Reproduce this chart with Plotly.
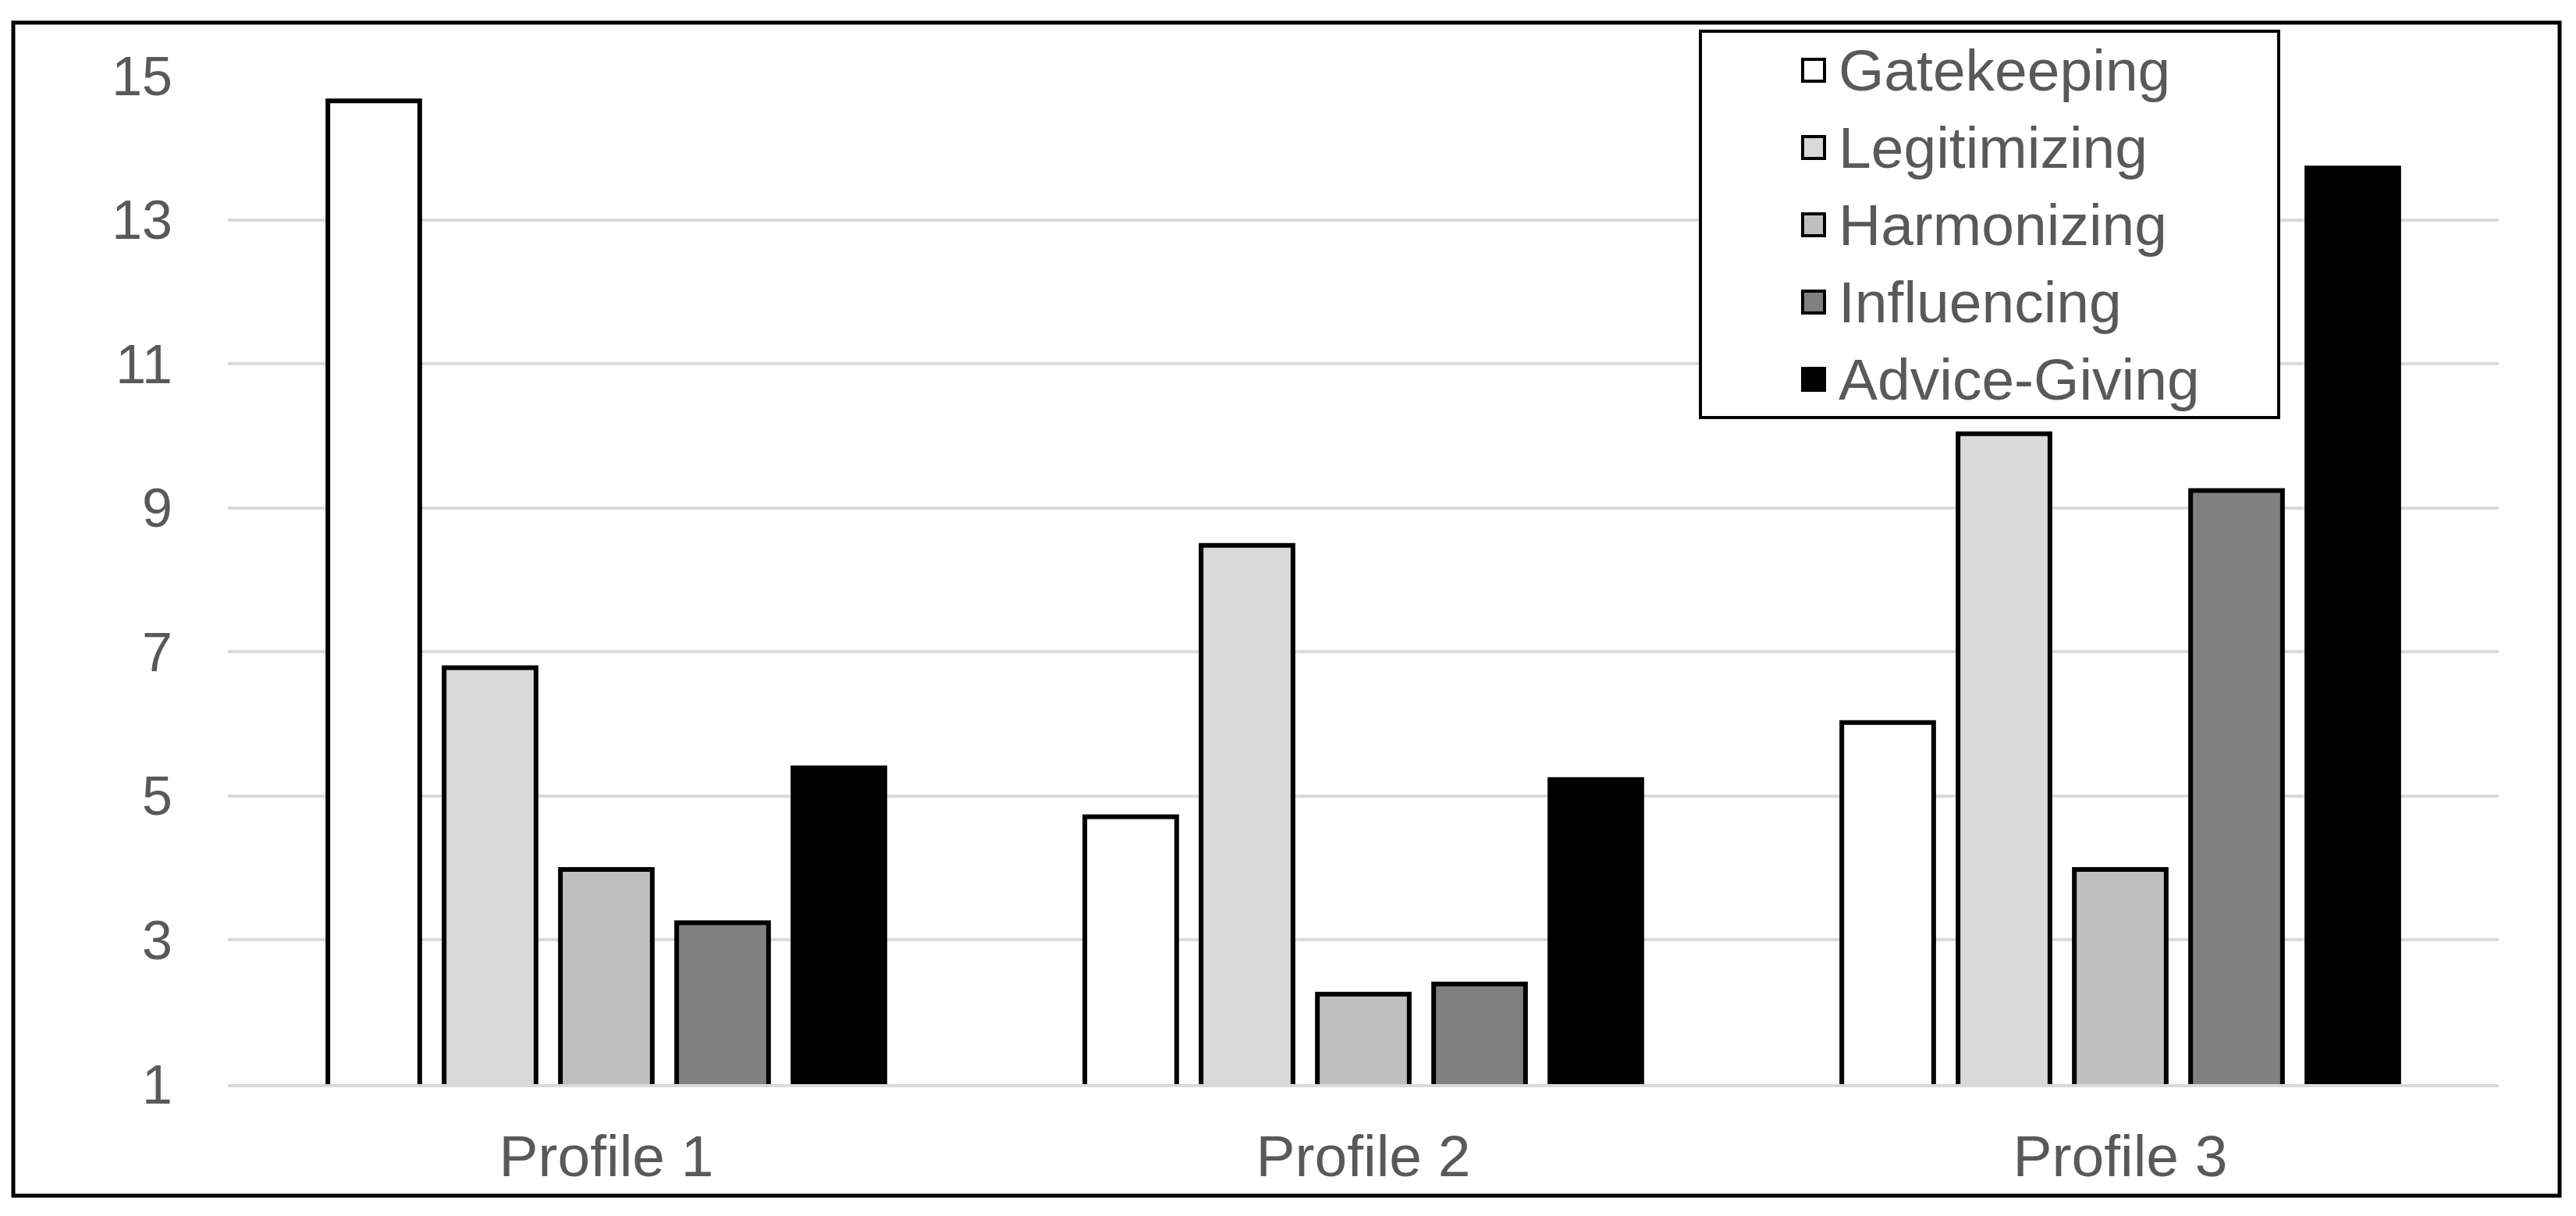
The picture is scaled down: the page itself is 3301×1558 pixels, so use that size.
import plotly.graph_objects as go

# ---- data ----
categories = ["Profile 1", "Profile 2", "Profile 3"]
series_names = ["Gatekeeping", "Legitimizing", "Harmonizing", "Influencing", "Advice-Giving"]
gatekeeping = [14.65, 4.71, 6.02]
legitimizing = [6.78, 8.48, 10.03]
harmonizing = [3.98, 2.25, 3.98]
influencing = [3.24, 2.39, 9.24]
advice_giving = [5.39, 5.23, 13.72]
series_values = [gatekeeping, legitimizing, harmonizing, influencing, advice_giving]
y_ticks = [1, 3, 5, 7, 9, 11, 13, 15]

# ---- styles ----
fills = ["#ffffff", "#d9d9d9", "#bfbfbf", "#808080", "#000000"]
FONT = "Arial, 'Liberation Sans', sans-serif"
TXT = "#595959"

OFF = 8  # default page body margin
W, H = 3301 - 2 * OFF, 1558 - 2 * OFF
# plot area in page pixels: x 292..3202, y 97..1389
ML = 292 - OFF
MT = 97 - OFF
MR = W - (3202 - OFF)
MB = H - (1389 - OFF)
PW = W - ML - MR
PH = H - MT - MB


def px_x(px):
    return (px - OFF - ML) / PW


def px_y(py):
    return (H - MB - (py - OFF)) / PH


fig = go.Figure()
for name, vals, col in zip(series_names, series_values, fills):
    fig.add_trace(go.Bar(
        x=categories, y=vals, name=name,
        marker=dict(color=col, line=dict(color="#000000", width=6)),
        showlegend=False,
    ))

fig.update_layout(
    width=W, height=H,
    margin=dict(l=ML, r=MR, t=MT, b=MB),
    paper_bgcolor="white", plot_bgcolor="white",
    barmode="group", bargap=0.232, bargroupgap=0.21,
    font=dict(family=FONT, color=TXT, size=70),
)
fig.update_yaxes(
    range=[1, 15], tickvals=y_ticks, showgrid=True, gridcolor="#d9d9d9", gridwidth=4,
    zeroline=False, showline=False, ticks="", ticklabelstandoff=70,
    tickfont=dict(size=70, color=TXT, family=FONT),
)
fig.update_xaxes(
    showline=True, linecolor="#d9d9d9", linewidth=4, ticks="", ticklabelstandoff=24,
    tickfont=dict(size=75, color=TXT, family=FONT),
)

shapes = []
# outer frame
shapes.append(dict(type="rect", xref="paper", yref="paper",
                   x0=px_x(17), x1=px_x(3280), y0=px_y(1532), y1=px_y(29),
                   line=dict(color="black", width=5), fillcolor="rgba(0,0,0,0)", layer="above"))
# legend box
shapes.append(dict(type="rect", xref="paper", yref="paper",
                   x0=px_x(2179), x1=px_x(2920), y0=px_y(535), y1=px_y(40),
                   line=dict(color="black", width=4), fillcolor="white", layer="above"))
annotations = []
item_y = [90, 189, 288, 387, 486]
for name, col, cy in zip(series_names, fills, item_y):
    shapes.append(dict(type="rect", xref="paper", yref="paper",
                       x0=px_x(2310), x1=px_x(2338), y0=px_y(cy + 14), y1=px_y(cy - 14),
                       line=dict(color="black", width=4), fillcolor=col, layer="above"))
    annotations.append(dict(xref="paper", yref="paper", x=px_x(2354), y=px_y(cy),
                            xanchor="left", yanchor="middle", showarrow=False, text=name,
                            font=dict(size=75, color=TXT, family=FONT)))

fig.update_layout(shapes=shapes, annotations=annotations)
fig.write_html("out.html")
